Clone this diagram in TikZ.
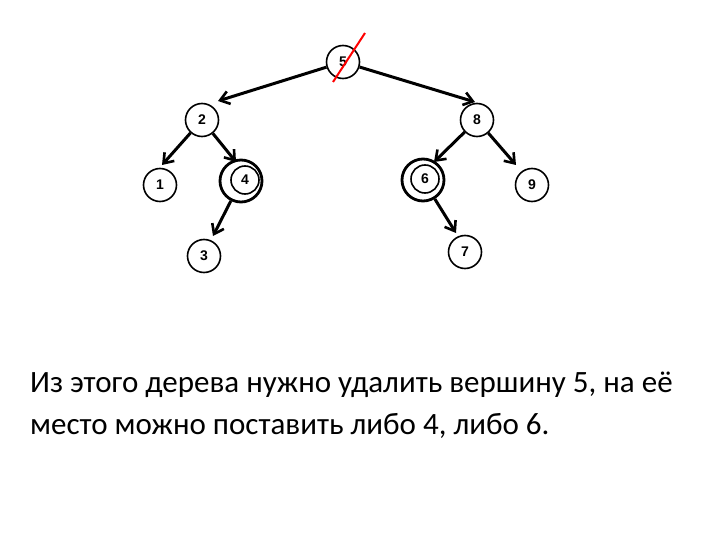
\documentclass[tikz,border=0pt]{standalone}
\usepackage{fontspec}
\setmainfont{Carlito}
\newfontfamily\arialf{Liberation Sans}
\usetikzlibrary{arrows.meta}
\begin{document}
\begin{tikzpicture}[x=1pt,y=-1pt,
  nd/.style={circle,draw,line width=1.6pt,minimum size=33pt,inner sep=0pt,font=\arialf\bfseries\fontsize{14}{14}\selectfont,fill=white},
  sm/.style={nd,minimum size=28pt},
  ed/.style={line width=3pt,-{Straight Barb[length=9pt,width=13pt,line width=2.6pt]}}]
\useasboundingbox (0,0) rectangle (720,540);
\node[nd] (n5) at (343,62) {5};
\node[nd] (n2) at (202,120) {2};
\node[nd] (n8) at (477,120) {8};
\node[nd] (n1) at (160,185) {1};
\node[nd] (n9) at (532,185) {9};
\node[nd] (n3) at (204,256) {3};
\node[nd] (n7) at (465,252) {7};
\node[circle,draw,line width=2.8pt,minimum size=42pt,inner sep=0pt] (o4) at (241,181) {};
\node[sm] (n4) at (245,180) {4};
\node[circle,draw,line width=2.8pt,minimum size=42pt,inner sep=0pt] (o6) at (423,180) {};
\node[sm] (n6) at (425,179) {6};
\draw[ed] (n5) -- (218,101);
\draw[ed] (n5) -- (475,102);
\draw[ed] (n2) -- (162,165);
\draw[ed] (n2) -- (236,162);
\draw[ed] (n8) -- (434,162);
\draw[ed] (n8) -- (516,165);
\draw[ed] (o4) -- (213,236);
\draw[ed] (o6) -- (456,233);
\draw[red,line width=2pt] (365,33) -- (333,82);
\node[anchor=base west,font=\fontsize{31}{42}\selectfont,align=left,inner sep=0pt] (t) at (30,434)
  {Из этого дерева нужно удалить вершину 5, на её\\место можно поставить либо 4, либо 6.};
\end{tikzpicture}
\end{document}
